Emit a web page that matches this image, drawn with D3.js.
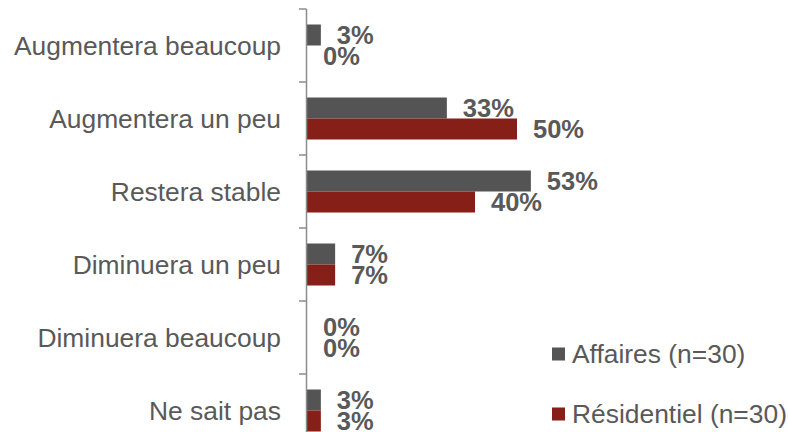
<!DOCTYPE html>
<html><head><meta charset="utf-8">
<script src="https://cdn.jsdelivr.net/npm/d3@7"></script>
<style>
html,body{margin:0;padding:0;background:#fff;}
svg{display:block;}
text{font-family:"Liberation Sans",Arial,sans-serif;}
</style></head>
<body>
<svg id="chart" width="788" height="432"></svg>
<script>
const categories = ["Augmentera beaucoup","Augmentera un peu","Restera stable","Diminuera un peu","Diminuera beaucoup","Ne sait pas"];
const seriesNames = ["Affaires (n=30)","Résidentiel (n=30)"];
const affaires = [3.3, 33.3, 53.3, 6.7, 0, 3.3];
const residentiel = [0, 50, 40, 6.7, 0, 3.3];
const seriesColors = ["#545454","#861f17"];

const svg = d3.select("#chart");
const x = d3.scaleLinear().domain([0, 60]).range([307, 559]);
const y0 = d3.scaleBand().domain(categories).range([9, 447]).padding(0);
const y1 = d3.scaleBand().domain(seriesNames).range([0, y0.bandwidth()]).paddingInner(0).paddingOuter(0.738);

const data = categories.map((c,i)=>({cat:c, vals:[affaires[i], residentiel[i]]}));

// bars
const g = svg.append("g");
data.forEach(d=>{
  d.vals.forEach((v,j)=>{
    const yy = y0(d.cat) + y1(seriesNames[j]);
    g.append("rect")
      .attr("x", x(0)).attr("y", yy)
      .attr("width", x(v)-x(0)).attr("height", y1.bandwidth())
      .attr("fill", seriesColors[j]);
    g.append("text")
      .attr("x", x(v)+16).attr("y", yy + y1.bandwidth()/2)
      .attr("dy","0.36em")
      .attr("font-size","25.5px").attr("font-weight","bold")
      .attr("fill","#595959")
      .text(Math.round(v)+"%");
  });
});

// axis
const ax = svg.append("g");
ax.append("line").attr("x1",306.5).attr("x2",306.5).attr("y1",y0.range()[0]).attr("y2",y0.range()[1])
  .attr("stroke","#8c8c8c").attr("stroke-width",1.5);
const tickYs = categories.map(c=>y0(c)).concat([y0.range()[1]]);
tickYs.forEach(t=>{
  ax.append("line").attr("x1",299).attr("x2",306.5).attr("y1",t).attr("y2",t)
    .attr("stroke","#8c8c8c").attr("stroke-width",1.5);
});
categories.forEach(c=>{
  ax.append("text").attr("x",281).attr("y",y0(c)+y0.bandwidth()/2)
    .attr("dy","0.35em").attr("text-anchor","end")
    .attr("font-size","26.4px").attr("fill","#595959").text(c);
});

// legend
const legY = [354, 414];
seriesNames.forEach((s,j)=>{
  svg.append("rect").attr("x",552).attr("y",legY[j]-6.5).attr("width",13).attr("height",13).attr("fill",seriesColors[j]);
  svg.append("text").attr("x",572).attr("y",legY[j]).attr("dy","0.35em")
    .attr("font-size","26.4px").attr("fill","#595959").text(s);
});
</script>
</body></html>
